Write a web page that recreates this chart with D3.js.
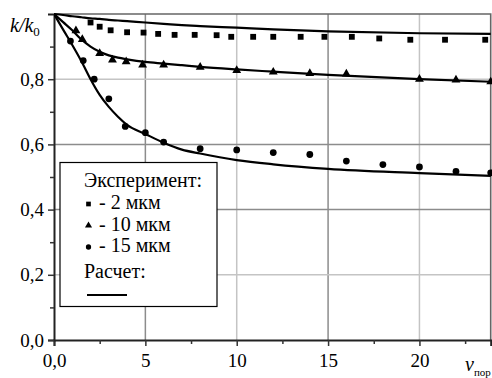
<!DOCTYPE html>
<html>
<head>
<meta charset="utf-8">
<script src="https://cdn.jsdelivr.net/npm/d3@7"></script>
<style>
  body { margin: 0; background: #fff; }
</style>
</head>
<body>
<div id="chart"></div>
<script>
// experiment, 2 um
const sqX = [2.0, 2.5, 3.1, 4.0, 4.9, 5.7, 6.6, 7.7, 8.9, 9.7, 10.9, 12.0, 13.5, 14.8, 16.3, 17.8, 19.5, 21.4, 23.6];
const sqY = [0.974, 0.961, 0.950, 0.944, 0.943, 0.939, 0.936, 0.936, 0.935, 0.930, 0.930, 0.930, 0.930, 0.930, 0.930, 0.925, 0.921, 0.921, 0.921];
// experiment, 10 um
const triX = [1.2, 1.55, 2.5, 3.2, 3.95, 4.85, 6.0, 8.0, 10.0, 12.0, 14.0, 16.0, 20.0, 22.0, 23.9];
const triY = [0.949, 0.922, 0.879, 0.859, 0.854, 0.844, 0.844, 0.837, 0.827, 0.822, 0.818, 0.816, 0.800, 0.798, 0.792];
// experiment, 15 um
const circX = [0.9, 1.6, 2.2, 3.0, 3.9, 5.0, 6.0, 8.0, 10.0, 12.0, 14.0, 16.0, 18.0, 20.0, 22.0, 23.9];
const circY = [0.917, 0.857, 0.800, 0.740, 0.655, 0.636, 0.607, 0.587, 0.583, 0.575, 0.569, 0.549, 0.538, 0.531, 0.517, 0.513];

// calculated curves
const calcX = [0, 0.5, 1, 1.5, 2, 2.5, 3, 3.5, 4, 5, 6, 7, 8, 10, 12, 15, 20, 24];
const calcSq = [1.0, 0.997, 0.993, 0.990, 0.987, 0.985, 0.982, 0.980, 0.978, 0.974, 0.970, 0.966, 0.963, 0.958, 0.953, 0.947, 0.941, 0.939];
const calcTri = [1.0, 0.975, 0.950, 0.922, 0.900, 0.884, 0.873, 0.866, 0.861, 0.853, 0.848, 0.843, 0.838, 0.830, 0.823, 0.813, 0.800, 0.792];
const calcCirc = [1.0, 0.952, 0.905, 0.855, 0.800, 0.752, 0.715, 0.685, 0.660, 0.632, 0.605, 0.584, 0.572, 0.552, 0.539, 0.525, 0.512, 0.503];

const xTicks = [0, 5, 10, 15, 20];
const xTickLabels = ["0,0", "5", "10", "15", "20"];
const yTicks = [0, 0.2, 0.4, 0.6, 0.8];
const yTickLabels = ["0,0", "0,2", "0,4", "0,6", "0,8"];
const legendItems = ["- 2 мкм", "- 10 мкм", "- 15 мкм"];

const width = 492, height = 378;
const pLeft = 54, pRight = 490.7, pTop = 14, pBottom = 340;

const svg = d3.select("#chart").append("svg")
  .attr("width", width)
  .attr("height", height);

const x = d3.scaleLinear().domain([0, 23.9]).range([pLeft, pRight]);
const y = d3.scaleLinear().domain([0, 1]).range([pBottom, pTop]);

svg.append("defs").append("clipPath").attr("id", "plot")
  .append("rect").attr("x", pLeft).attr("y", pTop - 3)
  .attr("width", pRight - pLeft).attr("height", pBottom - pTop + 3);

// grid, alternating shades like the scan
const grid = svg.append("g");
grid.selectAll("line.v").data(xTicks.slice(1)).join("line")
  .attr("x1", d => x(d)).attr("x2", d => x(d))
  .attr("y1", pTop).attr("y2", pBottom)
  .attr("stroke", (d, i) => i % 2 === 0 ? "#8c8c8c" : "#c4c4c4")
  .attr("stroke-width", 1.5);
grid.selectAll("line.h").data(yTicks.slice(1)).join("line")
  .attr("y1", d => y(d)).attr("y2", d => y(d))
  .attr("x1", pLeft).attr("x2", pRight)
  .attr("stroke", (d, i) => i % 3 === 0 ? "#c4c4c4" : "#8c8c8c")
  .attr("stroke-width", 1.5);

// frame top / right
svg.append("path")
  .attr("d", `M${pLeft},${pTop}H${pRight}V${pBottom}`)
  .attr("fill", "none").attr("stroke", "#666").attr("stroke-width", 1.6);

// axes
const xAxis = d3.axisBottom(x).tickValues(xTicks).tickSize(6).tickFormat((d, i) => xTickLabels[i]);
const gx = svg.append("g").attr("transform", `translate(0,${pBottom})`).call(xAxis);
gx.select(".domain").attr("stroke", "#222").attr("stroke-width", 2);
gx.selectAll(".tick line").attr("stroke", "#333").attr("stroke-width", 1.5);
gx.selectAll(".tick text").attr("font-size", 19).attr("y", 14).attr("dy", "0.71em");
const xMinor = d3.axisBottom(x).tickValues([2.5, 7.5, 12.5, 17.5, 22.5]).tickSize(4).tickFormat("");
const gxm = svg.append("g").attr("transform", `translate(0,${pBottom})`).call(xMinor);
gxm.select(".domain").remove();
gxm.selectAll(".tick line").attr("stroke", "#333").attr("stroke-width", 1.5);

const yAxis = d3.axisLeft(y).tickValues(yTicks).tickSize(6).tickFormat((d, i) => yTickLabels[i]);
const gy = svg.append("g").attr("transform", `translate(${pLeft},0)`).call(yAxis);
gy.select(".domain").attr("stroke", "#222").attr("stroke-width", 2);
gy.selectAll(".tick line").attr("stroke", "#333").attr("stroke-width", 1.5);
gy.selectAll(".tick text").attr("font-size", 19).attr("x", -10);
const yMinor = d3.axisLeft(y).tickValues([0.1, 0.3, 0.5, 0.7, 0.9]).tickSize(4).tickFormat("");
const gym = svg.append("g").attr("transform", `translate(${pLeft},0)`).call(yMinor);
gym.select(".domain").remove();
gym.selectAll(".tick line").attr("stroke", "#333").attr("stroke-width", 1.5);

// calculated lines
const line = d3.line()
  .x(d => x(d[0]))
  .y(d => y(d[1]))
  .curve(d3.curveMonotoneX);
const curves = svg.append("g").attr("clip-path", "url(#plot)");
[calcSq, calcTri, calcCirc].forEach(vals => {
  curves.append("path")
    .datum(calcX.map((v, i) => [v, vals[i]]))
    .attr("d", line)
    .attr("fill", "none")
    .attr("stroke", "#000")
    .attr("stroke-width", 2.2);
});

// experimental points
const pts = svg.append("g");
pts.selectAll("path.sq").data(sqX.map((v, i) => [v, sqY[i]])).join("path")
  .attr("d", d3.symbol(d3.symbolSquare, 34))
  .attr("transform", d => `translate(${x(d[0])},${y(d[1])})`);
pts.selectAll("path.tri").data(triX.map((v, i) => [v, triY[i]])).join("path")
  .attr("d", d3.symbol(d3.symbolTriangle, 34))
  .attr("transform", d => `translate(${x(d[0])},${y(d[1])})`);
pts.selectAll("path.circ").data(circX.map((v, i) => [v, circY[i]])).join("path")
  .attr("d", d3.symbol(d3.symbolCircle, 36))
  .attr("transform", d => `translate(${x(d[0])},${y(d[1])})`);

// legend
const lg = svg.append("g");
lg.append("rect")
  .attr("x", 60).attr("y", 162.5).attr("width", 157).attr("height", 144)
  .attr("fill", "#fff").attr("stroke", "#000").attr("stroke-width", 1.2);
lg.append("text").attr("x", 84).attr("y", 186.5).attr("font-size", 20).text("Эксперимент:");
const legendSymbols = [d3.symbolSquare, d3.symbolTriangle, d3.symbolCircle];
const legendY = [209, 230.5, 252];
legendItems.forEach((t, i) => {
  lg.append("path")
    .attr("d", d3.symbol(legendSymbols[i], 22))
    .attr("transform", `translate(88.5,${legendY[i] - 5})`);
  lg.append("text").attr("x", 99).attr("y", legendY[i]).attr("font-size", 20).text(t);
});
lg.append("text").attr("x", 84).attr("y", 278).attr("font-size", 20).text("Расчет:");
lg.append("line").attr("x1", 87).attr("x2", 127).attr("y1", 295).attr("y2", 295)
  .attr("stroke", "#000").attr("stroke-width", 2);

// axis titles
const yt = svg.append("text").attr("x", 10).attr("y", 31.5).attr("font-size", 20).attr("font-style", "italic");
yt.append("tspan").text("k/k");
yt.append("tspan").attr("font-size", 13).attr("dy", 4).attr("font-style", "normal").text("0");

const xt = svg.append("text").attr("x", 465).attr("y", 370.5).attr("font-size", 20).attr("font-style", "italic");
xt.append("tspan").text("v");
xt.append("tspan").attr("font-size", 11).attr("dy", 5).attr("font-style", "normal").text("пор");

// same serif face as the scan on every label
svg.selectAll("text").attr("font-family", "Liberation Serif").attr("fill", "#000");
</script>
</body>
</html>
